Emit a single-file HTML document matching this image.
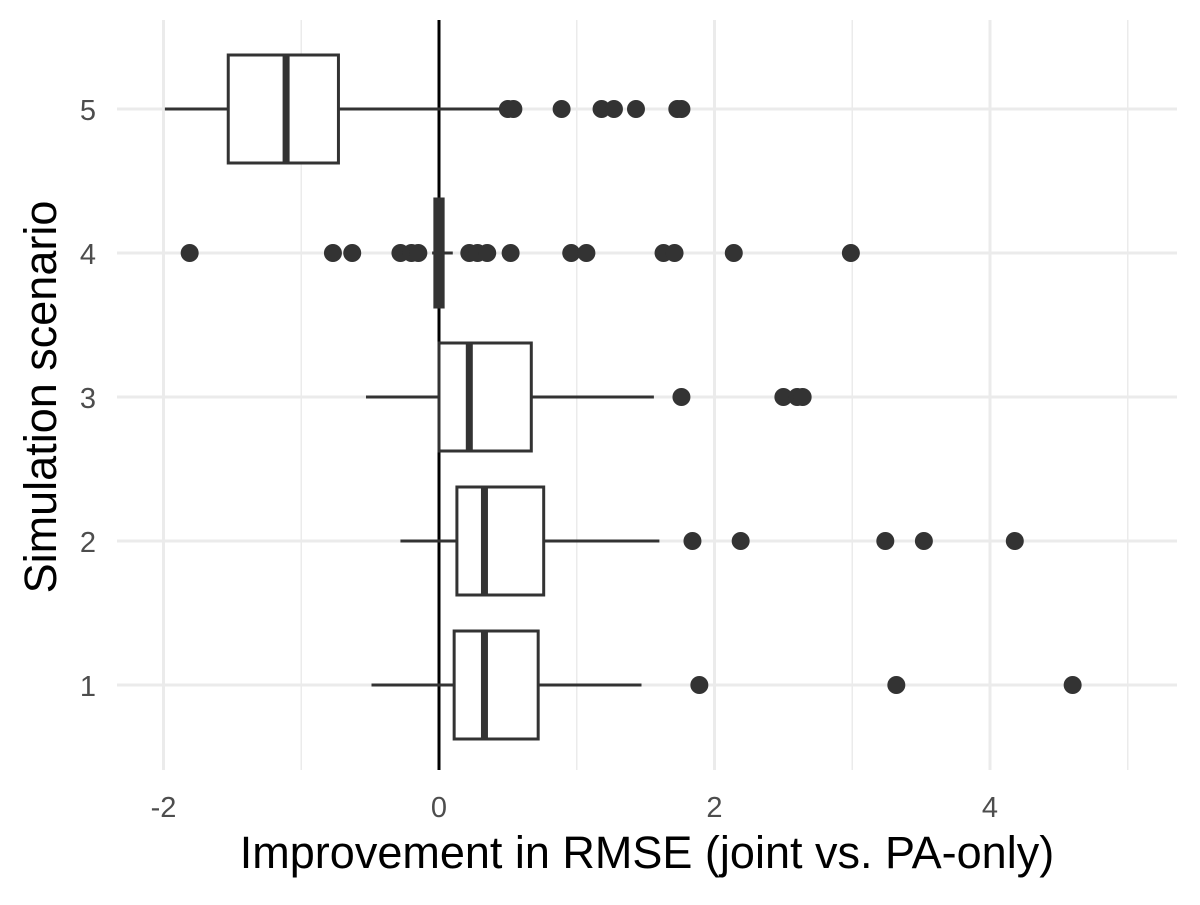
<!DOCTYPE html>
<html><head><meta charset="utf-8"><style>
body{margin:0;background:#fff}
svg text{font-family:"Liberation Sans",Arial,sans-serif}
</style></head><body>
<svg id="chart" width="1200" height="900">
<g id="grid"></g><g id="marks"></g><g id="axes"></g>
</svg>
<script>
const scenarios=[1,2,3,4,5];
const q1=[0.11,0.13,0.0,-0.03,-1.53];
const med=[0.33,0.33,0.22,0.0,-1.11];
const q3=[0.72,0.76,0.67,0.03,-0.73];
const wlo=[-0.49,-0.28,-0.53,-0.05,-1.99];
const whi=[1.47,1.6,1.56,0.1,0.44];
const outliers=[[1.89,3.32,4.6],[1.84,2.19,3.24,3.52,4.18],[1.76,2.5,2.6,2.64],
[-1.81,-0.77,-0.63,-0.28,-0.2,-0.15,0.22,0.28,0.35,0.52,0.96,1.07,1.63,1.71,2.14,2.99],
[0.5,0.54,0.89,1.18,1.27,1.43,1.73,1.76]];
const xTicks=[-2,0,2,4];
const xMinor=[-1,1,3,5];
const NS="http://www.w3.org/2000/svg";
const X=v=>439+v*137.75, Y=s=>685-(s-1)*144;
function mk(p,t,a){const e=document.createElementNS(NS,t);for(const k in a)e.setAttribute(k,a[k]);p.appendChild(e);return e;}
const grid=document.getElementById('grid'),marks=document.getElementById('marks'),axes=document.getElementById('axes');
xMinor.forEach(v=>{const l=mk(grid,'line',{x1:X(v),x2:X(v),y1:20,y2:770,stroke:'#ebebeb','stroke-width':1.5});

});
xTicks.forEach(v=>{const l=mk(grid,'line',{x1:X(v),x2:X(v),y1:20,y2:770,stroke:'#ebebeb','stroke-width':3});


const t=mk(axes,'text',{x:X(v),y:817,'text-anchor':'middle','font-size':29,fill:'#4d4d4d'});t.textContent=v;

});
scenarios.forEach(s=>{const l=mk(grid,'line',{x1:117,x2:1177,y1:Y(s),y2:Y(s),stroke:'#ebebeb','stroke-width':3});


const t=mk(axes,'text',{x:96,y:Y(s)+11,'text-anchor':'end','font-size':29,fill:'#4d4d4d'});t.textContent=s;

});
const z=mk(marks,'line',{x1:X(0),x2:X(0),y1:20,y2:770,stroke:'#000','stroke-width':3});


scenarios.forEach((s,i)=>{const g=mk(marks,'g',{});


const y=Y(s),h=54,c='#333';
mk(g,'line',{x1:X(wlo[i]),x2:X(q1[i]),y1:y,y2:y,stroke:c,'stroke-width':3});
mk(g,'line',{x1:X(q3[i]),x2:X(whi[i]),y1:y,y2:y,stroke:c,'stroke-width':3});
mk(g,'rect',{x:X(q1[i]),y:y-h,width:Math.max(X(q3[i])-X(q1[i]),1),height:2*h,fill:'#fff',stroke:c,'stroke-width':3});
mk(g,'line',{x1:X(med[i]),x2:X(med[i]),y1:y-h,y2:y+h,stroke:c,'stroke-width':7});
outliers[i].forEach(v=>{const d=mk(g,'circle',{cx:X(v),cy:y,r:9,fill:c});

});});
const xt=mk(axes,'text',{x:647,y:868,'text-anchor':'middle','font-size':45,fill:'#000'});xt.textContent='Improvement in RMSE (joint vs. PA-only)';


const yt=mk(axes,'text',{x:0,y:0,'text-anchor':'middle','font-size':45,fill:'#000',transform:'translate(56,397) rotate(-90)'});yt.textContent='Simulation scenario';


</script>
</body></html>
